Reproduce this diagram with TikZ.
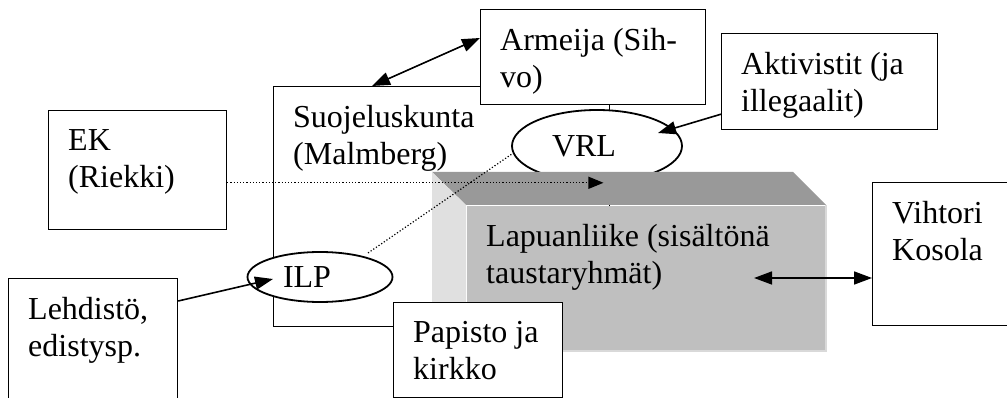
\documentclass[tikz,border=0pt]{standalone}
\usepackage{fontspec}
\setmainfont{Liberation Serif}
\usetikzlibrary{shapes.geometric,arrows.meta,calc}

\begin{document}
\begin{tikzpicture}[x=1pt,y=-1pt,
                box/.style={rectangle,draw=black,fill=white,line width=1.2pt,
                inner sep=0pt,anchor=north west},
                txt/.style={anchor=north west,align=left,inner xsep=20pt,
                inner ysep=19pt,font=\fontsize{32}{37}\selectfont},
                oval/.style={ellipse,draw=black,fill=white,line width=1.8pt,
                inner sep=0pt,font=\fontsize{32}{37}\selectfont},
                link/.style={line width=1.6pt,-{Triangle[length=18pt,width=13pt]}},
                both/.style={line width=1.6pt,
                {Triangle[length=18pt,width=13pt]}-{Triangle[length=18pt,width=13pt]}},
                dots/.style={dotted,line width=1.2pt}]
                \useasboundingbox (0,0) rectangle (1007,398);
                % big frame behind everything
                \node (suojelus) at (273,86) [box,minimum width=336,minimum height=240] {};
                \node (suojelusT) at (suojelus.north west) [txt] {Suojeluskunta\\(Malmberg)};
                \node (armeija) at (480,9) [box,minimum width=225,minimum height=95] {};
                \node (armeijaT) at (armeija.north west) [txt] {Armeija (Sih-\\vo)};
                \node (vrl) at (597,146) [oval,minimum width=170,minimum height=72] {\hspace*{-26pt}VRL};
                % the block
                \node (lapuan) at (466,205) [box,draw=none,fill=black!25,minimum width=359,minimum height=145] {};
                \fill[black!40] ($(lapuan.north west)+(-34,-33)$) -- ($(lapuan.north east)+(-33,-33)$)
                    -- (lapuan.north east) -- (lapuan.north west) -- cycle;
                \fill[black!12] ($(lapuan.north west)+(-34,-33)$) -- (lapuan.north west)
                    -- (lapuan.south west) -- ($(lapuan.south west)+(-34,0)$) -- cycle;
                \draw[black!15,line width=2pt] (lapuan.north east) -- (lapuan.south east) -- (lapuan.south west);
                \node (lapuanT) at (lapuan.north west) [txt] {Lapuanliike (sisältönä\\taustaryhmät)};
                \node (ilp) at (320,277) [oval,minimum width=145,minimum height=50] {\hspace*{-26pt}ILP};
                \node (papisto) at (393,302) [box,minimum width=169,minimum height=95] {};
                \node (papistoT) at (papisto.north west) [txt] {Papisto ja\\kirkko};
                \node (ek) at (48,110) [box,minimum width=178,minimum height=119] {};
                \node (ekT) at (ek.north west) [txt] {EK\\(Riekki)};
                \node (lehdisto) at (8,278) [box,minimum width=169,minimum height=140] {};
                \node (lehdistoT) at (lehdisto.north west) [txt] {Lehdistö,\\edistysp.};
                \node (aktiv) at (721,33) [box,minimum width=216,minimum height=96] {};
                \node (aktivT) at (aktiv.north west) [txt] {Aktivistit (ja\\illegaalit)};
                \node (vihtori) at (872,182) [box,minimum width=150,minimum height=143] {};
                \node (vihtoriT) at (vihtori.north west) [txt] {Vihtori\\Kosola};
                % connections
                \draw[both] ($(armeija.north west)+(0,29)$) -- ($(suojelus.north west)+(99,0)$);
                \draw[link] ($(aktiv.south west)+(0,-16)$) -- ($(vrl.center)+(61,-13)$);
                \draw[link] ($(lehdisto.north east)+(0,23)$) -- ($(ilp.center)+(-47,2)$);
                \draw[both] ($(lapuan.north west)+(288,73)$) -- ($(vihtori.north west)+(0,96)$);
                \draw[dots,-{Triangle[length=15pt,width=12pt]}] (ek.east |- vrl.-80) -- (vrl.-80);
                \draw[dots] ($(ilp.center)+(48,-24)$) -- (vrl.185);
            \end{tikzpicture}
\end{document}
